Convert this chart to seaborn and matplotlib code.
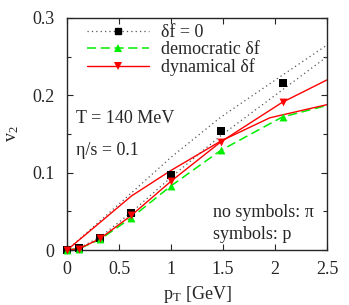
import numpy as np
import pandas as pd
import seaborn as sns
import matplotlib
matplotlib.use("Agg")
from matplotlib import pyplot as plt
from matplotlib.lines import Line2D
from matplotlib.ticker import MultipleLocator, FuncFormatter

# pion curves (no symbols)
pt_pi = [0, 0.32, 0.62, 1.0, 1.48, 2.07, 2.5]
v2_pi_ideal = [0, 0.038, 0.074, 0.120, 0.172, 0.226, 0.265]
pt_pi_dyn = [0, 0.32, 0.62, 1.0, 1.48, 1.95, 2.5]
v2_pi_dyn = [0, 0.036, 0.070, 0.103, 0.141, 0.171, 0.188]

# proton curves (symbols)
pt_p = [0, 0.12, 0.32, 0.62, 1.0, 1.48, 2.07, 2.5]
v2_p_ideal = [0, 0.003, 0.017, 0.049, 0.094, 0.148, 0.207, 0.250]
v2_p_dem = [0, 0.002, 0.014, 0.042, 0.083, 0.129, 0.172, 0.187]
v2_p_dyn = [0, 0.002, 0.015, 0.045, 0.089, 0.140, 0.191, 0.220]

# symbol points
pt_sym = [0, 0.12, 0.32, 0.62, 1.0, 1.48, 2.08]
v2_sym_ideal = [0, 0.003, 0.016, 0.048, 0.097, 0.154, 0.216]
v2_sym_dem = [0, 0.002, 0.014, 0.042, 0.083, 0.129, 0.172]
v2_sym_dyn = [0, 0.002, 0.015, 0.045, 0.089, 0.140, 0.191]

labels = ["δf = 0", "democratic δf", "dynamical δf"]

sns.set_style("ticks")
plt.rcParams['font.family'] = ['Liberation Serif', 'DejaVu Serif']
plt.rcParams['mathtext.fontset'] = 'stix'
fs = 13

fig = plt.figure(figsize=(3.49, 3.05), dpi=100)
ax = fig.add_axes([0.192, 0.180, 0.745, 0.761])

dot = (0, (1, 2.5))
dash = (0, (6, 3))
grey = "#555555"
green = "#00ee00"
red = "#ff0000"

sns.lineplot(x=pt_pi, y=v2_pi_ideal, ax=ax, color=grey, lw=0.9, linestyle=dot)
sns.lineplot(x=pt_p, y=v2_p_ideal, ax=ax, color=grey, lw=0.9, linestyle=dot)
sns.lineplot(x=pt_p, y=v2_p_dem, ax=ax, color=green, lw=1.1, linestyle=dash)
sns.lineplot(x=pt_pi_dyn, y=v2_pi_dyn, ax=ax, color=red, lw=1.0)
sns.lineplot(x=pt_p, y=v2_p_dyn, ax=ax, color=red, lw=1.0)

sns.scatterplot(x=pt_sym, y=v2_sym_ideal, ax=ax, color="black", marker="s", s=30,
                linewidth=0, zorder=5, clip_on=False)
sns.scatterplot(x=pt_sym, y=v2_sym_dem, ax=ax, color=green, marker="^", s=32,
                linewidth=0, zorder=6, clip_on=False)
sns.scatterplot(x=pt_sym, y=v2_sym_dyn, ax=ax, color=red, marker="v", s=32,
                linewidth=0, zorder=7, clip_on=False)

ax.set_xlim(0, 2.5)
ax.set_ylim(0, 0.3)
ax.xaxis.set_major_locator(MultipleLocator(0.5))
ax.yaxis.set_major_locator(MultipleLocator(0.1))
ax.yaxis.set_minor_locator(MultipleLocator(0.05))
ax.xaxis.set_major_formatter(FuncFormatter(lambda v, p: f"{v:g}"))
ax.yaxis.set_major_formatter(FuncFormatter(lambda v, p: f"{v:g}"))
ax.tick_params(which="both", direction="in", top=True, right=True, labelsize=fs, width=0.8)
ax.tick_params(which="major", length=4.5)
ax.tick_params(axis="x", which="major", pad=8)
ax.tick_params(axis="y", which="major", pad=9)
ax.tick_params(which="minor", length=3)
for s in ax.spines.values():
    s.set_linewidth(1.0)
    s.set_visible(True)

ax.set_xlabel(r"p$_\mathregular{T}$ [GeV]", fontsize=fs, labelpad=4)
ax.set_ylabel(r"v$_\mathregular{2}$", fontsize=fs, labelpad=8)

handles = [
    Line2D([], [], color=grey, lw=0.9, linestyle=dot, marker="s", markersize=5,
           markerfacecolor="black", markeredgecolor="black"),
    Line2D([], [], color=green, lw=1.1, linestyle=dash, marker="^", markersize=5.5,
           markeredgewidth=0),
    Line2D([], [], color=red, lw=1.0, marker="v", markersize=5.5, markeredgewidth=0),
]
ax.legend(handles, labels, loc="upper left", frameon=False, fontsize=fs,
          handlelength=3.4, handletextpad=0.7, labelspacing=0.0,
          borderaxespad=0.0, bbox_to_anchor=(0.05, 1.005))

ax.text(0.035, 0.568, "T = 140 MeV", transform=ax.transAxes, fontsize=fs, va="center")
ax.text(0.035, 0.43, "η/s = 0.1", transform=ax.transAxes, fontsize=fs, va="center")
ax.text(0.56, 0.16, "no symbols: π", transform=ax.transAxes, fontsize=fs, va="center")
ax.text(0.56, 0.068, "symbols: p", transform=ax.transAxes, fontsize=fs, va="center")

fig.savefig("out.png", dpi=100)
